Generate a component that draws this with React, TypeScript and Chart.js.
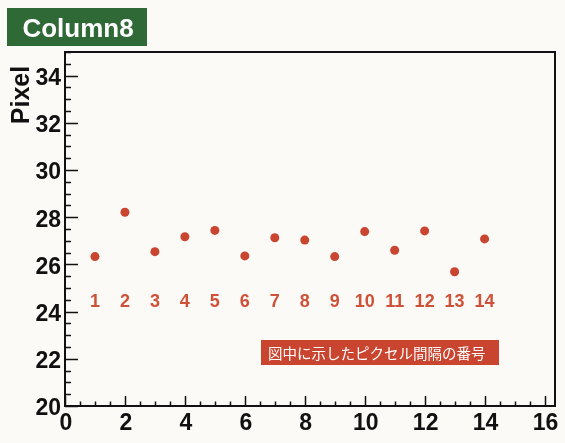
import React, { useEffect, useRef } from "react";
import { Chart, registerables } from "chart.js";

Chart.register(...registerables);

// ---- data ----
const pointIndex = [1, 2, 3, 4, 5, 6, 7, 8, 9, 10, 11, 12, 13, 14];
const pixelValues = [26.33, 28.21, 26.54, 27.17, 27.44, 26.36, 27.13, 27.03, 26.33, 27.39, 26.6, 27.42, 25.69, 27.08];
const pointLabels = ["1", "2", "3", "4", "5", "6", "7", "8", "9", "10", "11", "12", "13", "14"];
const pointLabelLevel = 24.41;
const xTickValues = [0, 2, 4, 6, 8, 10, 12, 14, 16];
const yTickValues = [20, 22, 24, 26, 28, 30, 32, 34];
const xRange = [0, 16.35];
const yRange = [20, 35];
const minorStep = 0.5;
const titleText = "Column8";
const yAxisTitle = "Pixel";
const noteText = "図中に示したピクセル間隔の番号";

const FONT = "'Liberation Sans', Arial, sans-serif";
const NARROW = "'Liberation Sans Narrow', 'Liberation Sans', Arial, sans-serif";
const BG = "#fbfaf6";
const RED = "#c9452f";

const decorPlugin = {
  id: "decor",
  beforeDraw(chart: any) {
    const ctx = chart.ctx;
    ctx.save();
    ctx.fillStyle = BG;
    ctx.fillRect(0, 0, chart.width, chart.height);
    ctx.restore();
  },
  afterDraw(chart: any) {
    const ctx = chart.ctx;
    const xs = chart.scales.x;
    const ys = chart.scales.y;
    const a = chart.chartArea;
    ctx.save();

    // frame
    ctx.strokeStyle = "#111";
    ctx.lineWidth = 2;
    ctx.strokeRect(a.left, a.top, a.right - a.left, a.bottom - a.top);

    // ticks (inward)
    ctx.lineWidth = 1.5;
    ctx.beginPath();
    for (let v = yRange[0]; v <= yRange[1] + 1e-9; v += minorStep) {
      const py = Math.round(ys.getPixelForValue(v)) + 0.5;
      const major = yTickValues.includes(v);
      ctx.moveTo(a.left, py);
      ctx.lineTo(a.left + (major ? 13 : 6), py);
    }
    for (let v = xRange[0]; v <= xRange[1] + 1e-9; v += minorStep) {
      const px = Math.round(xs.getPixelForValue(v)) + 0.5;
      const major = xTickValues.includes(v);
      ctx.moveTo(px, a.bottom);
      ctx.lineTo(px, a.bottom - (major ? 10 : 4.5));
    }
    ctx.stroke();

    // point number labels
    ctx.fillStyle = "#cf5138";
    ctx.font = `bold 18px ${FONT}`;
    ctx.textAlign = "center";
    ctx.textBaseline = "middle";
    const ly = ys.getPixelForValue(pointLabelLevel);
    pointIndex.forEach((xv, i) => {
      ctx.fillText(pointLabels[i], xs.getPixelForValue(xv), ly);
    });

    // note box
    ctx.fillStyle = RED;
    ctx.fillRect(261, 340, 238, 25);
    ctx.fillStyle = "#ffffff";
    ctx.font = `14.5px 'Noto Sans CJK JP', sans-serif`;
    ctx.textAlign = "left";
    ctx.textBaseline = "middle";
    ctx.fillText(noteText, 268, 353);

    // title box
    ctx.fillStyle = "#2f6a36";
    ctx.fillRect(7, 8, 140, 38);
    ctx.fillStyle = "#ffffff";
    ctx.font = `bold 26px ${FONT}`;
    ctx.textAlign = "center";
    ctx.textBaseline = "alphabetic";
    ctx.fillText(titleText, 78, 37);

    // y axis title
    ctx.save();
    ctx.translate(29, 95);
    ctx.rotate(-Math.PI / 2);
    ctx.fillStyle = "#111";
    ctx.font = `bold 25px ${FONT}`;
    ctx.textAlign = "center";
    ctx.textBaseline = "alphabetic";
    ctx.fillText(yAxisTitle, 0, 0);
    ctx.restore();

    ctx.restore();
  },
};

export default function App() {
  const ref = useRef<HTMLCanvasElement | null>(null);
  useEffect(() => {
    if (!ref.current) return;
    const chart = new Chart(ref.current, {
      type: "scatter",
      data: {
        datasets: [
          {
            data: pointIndex.map((x, i) => ({ x, y: pixelValues[i] })),
            backgroundColor: RED,
            borderColor: RED,
            borderWidth: 0,
            pointRadius: 4.5,
          },
        ],
      },
      options: {
        animation: false,
        responsive: false,
        maintainAspectRatio: false,
        layout: { padding: { top: 52, right: 10, left: 0, bottom: 0 } },
        plugins: { legend: { display: false }, tooltip: { enabled: false } },
        scales: {
          x: {
            type: "linear",
            min: xRange[0],
            max: xRange[1],
            afterBuildTicks: (s: any) => {
              s.ticks = xTickValues.map((v) => ({ value: v }));
            },
            afterFit: (s: any) => {
              s.height = 37;
            },
            grid: { display: false, drawTicks: false },
            border: { display: false },
            ticks: {
              font: { family: NARROW, size: 23, weight: "bold" },
              color: "#111",
              padding: 4,
              labelOffset: 1,
              maxRotation: 0,
              autoSkip: false,
            },
          },
          y: {
            type: "linear",
            min: yRange[0],
            max: yRange[1],
            afterBuildTicks: (s: any) => {
              s.ticks = yTickValues.map((v) => ({ value: v }));
            },
            afterFit: (s: any) => {
              s.width = 65;
            },
            grid: { display: false, drawTicks: false },
            border: { display: false },
            ticks: {
              font: { family: NARROW, size: 23, weight: "bold" },
              color: "#111",
              padding: 4,
              labelOffset: 3,
              autoSkip: false,
            },
          },
        },
      },
      plugins: [decorPlugin],
    } as any);
    return () => chart.destroy();
  }, []);
  return (
    <div style={{ position: "absolute", left: 0, top: 0, width: 565, height: 443, background: BG }}>
      <canvas ref={ref} width={565} height={443} style={{ display: "block" }} />
    </div>
  );
}
